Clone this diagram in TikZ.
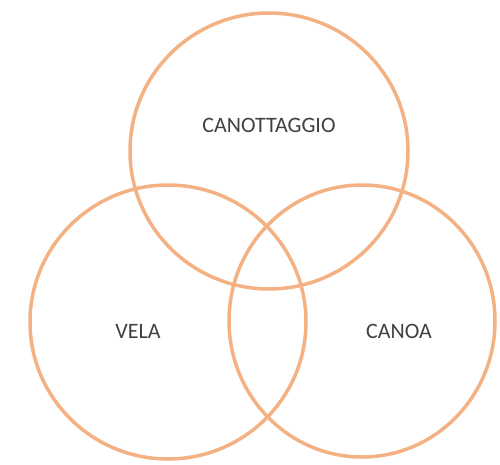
\documentclass[tikz,border=0pt]{standalone}
\usepackage{fontspec}
\setmainfont{Carlito}
\usepackage{tikz}
\definecolor{arancio}{HTML}{F4B183}
\definecolor{testo}{HTML}{404040}

\begin{document}
\begin{tikzpicture}[x=1pt, y=-1pt,
    every node/.style={font=\fontsize{22}{26}\selectfont, text=testo},
    cerchio/.style={draw=arancio, line width=3.5pt}]
    \useasboundingbox (0,0) rectangle (500,464);

    % cerchi
    \draw[cerchio] (269,151) ellipse (139 and 138);
    \draw[cerchio] (168,322) ellipse (138 and 137);
    \draw[cerchio] (362,321) ellipse (133 and 136);

    % etichette
    \node (canottaggio) at (269,125) {CANOTTAGGIO};
    \node (vela) at (138,331) {VELA};
    \node (canoa) at (399,331) {CANOA};
\end{tikzpicture}
\end{document}
